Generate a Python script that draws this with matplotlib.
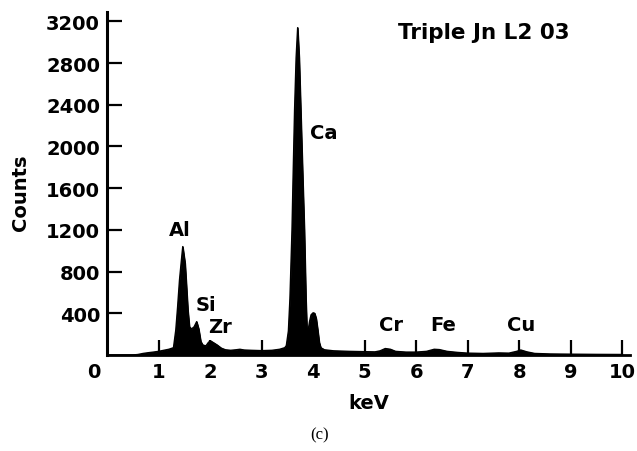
import matplotlib
matplotlib.use("Agg")
import matplotlib.pyplot as plt
from matplotlib.transforms import ScaledTranslation

# Spectrum (energy in keV, counts)
energy_kev = [0.0, 0.5, 0.6, 0.7, 0.8, 0.9, 1.0, 1.1, 1.2, 1.29,
              1.335, 1.37, 1.407, 1.438, 1.47, 1.515, 1.535, 1.57, 1.60, 1.64,
              1.69, 1.74, 1.78, 1.82, 1.86, 1.92, 1.97, 2.01, 2.06, 2.14,
              2.22, 2.30, 2.40, 2.50, 2.58, 2.66, 2.80, 3.00, 3.20, 3.35,
              3.45, 3.48, 3.52, 3.55, 3.59, 3.61, 3.64, 3.67, 3.70, 3.73,
              3.76, 3.80, 3.83, 3.86, 3.88, 3.90, 3.93, 3.96, 4.00, 4.03,
              4.06, 4.09, 4.12, 4.15, 4.22, 4.40, 4.70, 5.00, 5.20, 5.30,
              5.40, 5.50, 5.60, 5.80, 6.00, 6.20, 6.35, 6.45, 6.60, 6.80,
              7.00, 7.30, 7.60, 7.80, 7.95, 8.03, 8.15, 8.30, 8.60, 9.00,
              9.50, 10.0]
counts = [0, 0, 5, 15, 22, 28, 35, 45, 55, 70,
          240, 460, 720, 880, 1040, 880, 720, 430, 270, 250,
          270, 320, 250, 130, 95, 88, 122, 135, 120, 95,
          65, 50, 45, 50, 55, 48, 45, 42, 45, 55,
          70, 90, 230, 540, 1200, 1680, 2350, 2850, 3140, 2850,
          2350, 1680, 1200, 540, 250, 225, 320, 385, 405, 400,
          350, 240, 120, 70, 50, 40, 35, 32, 30, 40,
          62, 55, 35, 28, 28, 35, 55, 52, 35, 25,
          18, 15, 20, 18, 35, 48, 30, 15, 10, 8,
          6, 5]

# Peak labels
peak_names = ["Al", "Si", "Zr", "Ca", "Cr", "Fe", "Cu"]
peak_label_kev = [1.41, 1.92, 2.19, 4.20, 5.52, 6.52, 8.03]
peak_label_counts = [1202, 481, 272, 2136, 289, 289, 289]

x_ticks = [0, 1, 2, 3, 4, 5, 6, 7, 8, 9, 10]
y_ticks = [400, 800, 1200, 1600, 2000, 2400, 2800, 3200]

title_text = "Triple Jn L2 03"
panel_text = "(c)"

fig = plt.figure(figsize=(6.37, 4.52), dpi=100)
ax = fig.add_axes([107/637, 1-356/452, (630-107)/637, (356-13)/452])

ax.fill_between(energy_kev, counts, 0, color="black", lw=0.8, edgecolor="black")
ax.plot(energy_kev, counts, color="black", lw=1.0)

ax.set_xlim(0, 10.15)
ax.set_ylim(0, 3290)

for s in ["top", "right"]:
    ax.spines[s].set_visible(False)
ax.spines["left"].set_linewidth(2.2)
ax.spines["bottom"].set_linewidth(2.0)

fs = 14
tick_font = dict(family="DejaVu Sans", weight="bold", size=fs)
ax.set_xticks(x_ticks)
ax.set_xticklabels([str(t) for t in x_ticks], fontdict=tick_font)
ax.set_yticks(y_ticks)
ax.set_yticklabels([str(t) for t in y_ticks], fontdict=tick_font)
ax.tick_params(axis="x", direction="in", length=11, width=1.6, pad=5)
ax.tick_params(axis="y", direction="in", length=11, width=1.6, pad=5)
# hide the 0 tick mark (coincides with spine) and shift its label left
ax.xaxis.get_major_ticks()[0].tick1line.set_visible(False)
lbl0 = ax.get_xticklabels()[0]
lbl0.set_transform(lbl0.get_transform() + ScaledTranslation(-13/100, 0, fig.dpi_scale_trans))

ax.set_xlabel("keV", fontdict=dict(family="DejaVu Sans", weight="bold", size=fs), labelpad=9)
ax.set_ylabel("Counts", fontdict=dict(family="DejaVu Sans", weight="bold", size=fs), labelpad=10)
ax.yaxis.set_label_coords(-0.148, 0.475)

for name, xk, yc in zip(peak_names, peak_label_kev, peak_label_counts):
    ax.text(xk, yc, name, ha="center", va="center", family="DejaVu Sans",
            weight="bold", size=fs)

fig.text(484/637, 1-33/452, title_text, ha="center", va="center",
         family="DejaVu Sans", weight="bold", size=15.5)
fig.text(320/637, 1-435/452, panel_text, ha="center", va="center",
         family="Liberation Serif", size=12)

fig.savefig("out.png", dpi=100)
